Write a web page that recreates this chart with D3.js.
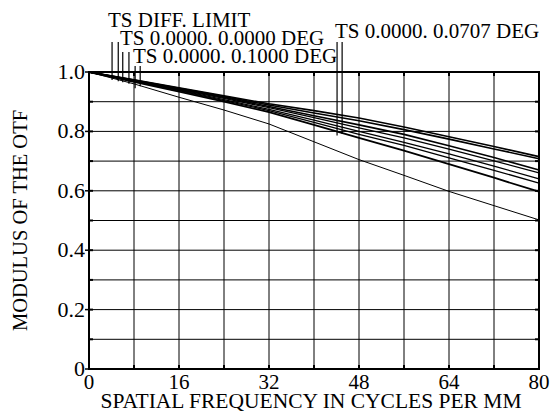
<!DOCTYPE html>
<html>
<head>
<meta charset="utf-8">
<title>MTF</title>
<script src="https://d3js.org/d3.v7.min.js"></script>
<style>
  body { margin: 0; background: #fff; }
  text { font-family: "Liberation Serif", "Times New Roman", serif; fill: #000; }
</style>
</head>
<body>
<div id="container"></div>
<script>
// spatial frequency samples (cycles/mm)
var freqs = [0, 8, 16, 24, 32, 40, 48, 56, 64, 72, 80];

// modulus values, top curve to bottom curve
var dlT   = [1, 0.974, 0.947, 0.920, 0.893, 0.870, 0.845, 0.815, 0.782, 0.749, 0.715];
var dlS   = [1, 0.973, 0.945, 0.917, 0.889, 0.862, 0.836, 0.806, 0.774, 0.741, 0.708];
var f0T   = [1, 0.972, 0.943, 0.914, 0.884, 0.853, 0.822, 0.790, 0.752, 0.712, 0.670];
var f0S   = [1, 0.971, 0.941, 0.911, 0.880, 0.846, 0.812, 0.778, 0.740, 0.701, 0.660];
var f1S   = [1, 0.970, 0.939, 0.907, 0.874, 0.838, 0.800, 0.763, 0.724, 0.683, 0.640];
var f707T = [1, 0.969, 0.937, 0.904, 0.870, 0.830, 0.790, 0.753, 0.711, 0.669, 0.626];
var f707S = [1, 0.967, 0.934, 0.900, 0.865, 0.822, 0.778, 0.735, 0.690, 0.644, 0.597];
var f1T   = [1, 0.960, 0.915, 0.872, 0.825, 0.765, 0.705, 0.652, 0.598, 0.550, 0.502];

var series = [dlT, dlS, f0T, f0S, f1S, f707T, f707S, f1T];
var widths = [1.6, 1.6, 1.6, 1.3, 1.3, 1.3, 1.8, 1];

// legend labels and the frequencies where their leader lines touch the curves
var legendLabels = ["TS DIFF. LIMIT", "TS 0.0000. 0.0000 DEG", "TS 0.0000. 0.1000 DEG", "TS 0.0000. 0.0707 DEG"];
var leaderFreqs = [[4.1, 5.2], [6.0, 7.1], [8.2, 9.1], [44.1, 45.0]];
var leaderSeries = [[0, 1], [2, 3], [7, 4], [6, 5]];

var xTicks = [0, 16, 32, 48, 64, 80];
var yTicks = [0, 0.2, 0.4, 0.6, 0.8, 1.0];

var width = 550, height = 413;
var margin = {left: 89, right: 11, top: 72, bottom: 44};

var svg = d3.select("#container").append("svg").attr("width", width).attr("height", height);

var x = d3.scaleLinear().domain([0, 80]).range([margin.left, width - margin.right]);
var y = d3.scaleLinear().domain([0, 1]).range([height - margin.bottom, margin.top]);

// grid
var g = svg.append("g");
g.selectAll(".vgrid").data(d3.range(8, 80, 8)).enter().append("line")
  .attr("x1", d => x(d)).attr("x2", d => x(d))
  .attr("y1", y(0)).attr("y2", y(1))
  .attr("stroke", "#000").attr("stroke-width", 1);
g.selectAll(".hgrid").data(d3.range(1, 10).map(d => d / 10)).enter().append("line")
  .attr("x1", x(0)).attr("x2", x(80))
  .attr("y1", d => y(d)).attr("y2", d => y(d))
  .attr("stroke", "#000").attr("stroke-width", 1);

// short heavier ticks on the frame
var tl = 4;
d3.range(8, 80, 8).forEach(function(d) {
  g.append("line").attr("x1", x(d)).attr("x2", x(d)).attr("y1", y(0)).attr("y2", y(0) - tl).attr("stroke", "#000").attr("stroke-width", 2);
  g.append("line").attr("x1", x(d)).attr("x2", x(d)).attr("y1", y(1)).attr("y2", y(1) + tl).attr("stroke", "#000").attr("stroke-width", 2);
});
d3.range(1, 10).forEach(function(i) {
  var v = i / 10;
  g.append("line").attr("x1", x(80)).attr("x2", x(80) - tl).attr("y1", y(v)).attr("y2", y(v)).attr("stroke", "#000").attr("stroke-width", 2);
  g.append("line").attr("x1", x(0)).attr("x2", x(0) + tl).attr("y1", y(v)).attr("y2", y(v)).attr("stroke", "#000").attr("stroke-width", 2);
});
yTicks.forEach(function(v) {
  g.append("line").attr("x1", x(0) - 4).attr("x2", x(0)).attr("y1", y(v)).attr("y2", y(v)).attr("stroke", "#000").attr("stroke-width", 1.5);
});

// frame
svg.append("rect")
  .attr("x", x(0)).attr("y", y(1))
  .attr("width", x(80) - x(0)).attr("height", y(0) - y(1))
  .attr("fill", "none").attr("stroke", "#000").attr("stroke-width", 2);

// curves
var line = d3.line().x((d, i) => x(freqs[i])).y(d => y(d));
svg.append("g").selectAll("path").data(series).enter().append("path")
  .attr("d", line)
  .attr("fill", "none")
  .attr("stroke", "#000")
  .attr("stroke-width", (d, i) => widths[i]);

// legend labels with leaders
var labelPos = [[108, 27], [120, 45], [133, 63], [335, 38]];
var leaderTop = [42, 52, 66, 42];
function valueAt(s, f) {
  return d3.scaleLinear().domain(freqs).range(s)(f);
}
legendLabels.forEach(function(lbl, k) {
  svg.append("text")
    .attr("x", labelPos[k][0]).attr("y", labelPos[k][1])
    .attr("font-size", 21)
    .text(lbl);
  leaderFreqs[k].forEach(function(f, j) {
    svg.append("line")
      .attr("x1", x(f)).attr("x2", x(f))
      .attr("y1", leaderTop[k]).attr("y2", y(valueAt(series[leaderSeries[k][j]], f)) + 4)
      .attr("stroke", "#000").attr("stroke-width", 1.2);
  });
});

// axis labels
svg.selectAll(".xt").data(xTicks).enter().append("text")
  .attr("x", d => x(d)).attr("y", y(0) + 20)
  .attr("text-anchor", "middle").attr("font-size", 21)
  .text(d => d);
svg.selectAll(".yt").data(yTicks).enter().append("text")
  .attr("x", x(0) - 4).attr("y", d => y(d) + 7)
  .attr("text-anchor", "end").attr("font-size", 22)
  .text(d => d === 0 ? "0" : d.toFixed(1));

svg.append("text")
  .attr("x", (x(0) + x(80)) / 2 - 3).attr("y", 408)
  .attr("text-anchor", "middle").attr("font-size", 21.5)
  .text("SPATIAL FREQUENCY IN CYCLES PER MM");
svg.append("text")
  .attr("transform", "translate(27," + ((y(0) + y(1)) / 2) + ") rotate(-90)")
  .attr("text-anchor", "middle").attr("font-size", 20.5)
  .text("MODULUS OF THE OTF");
</script>
</body>
</html>
